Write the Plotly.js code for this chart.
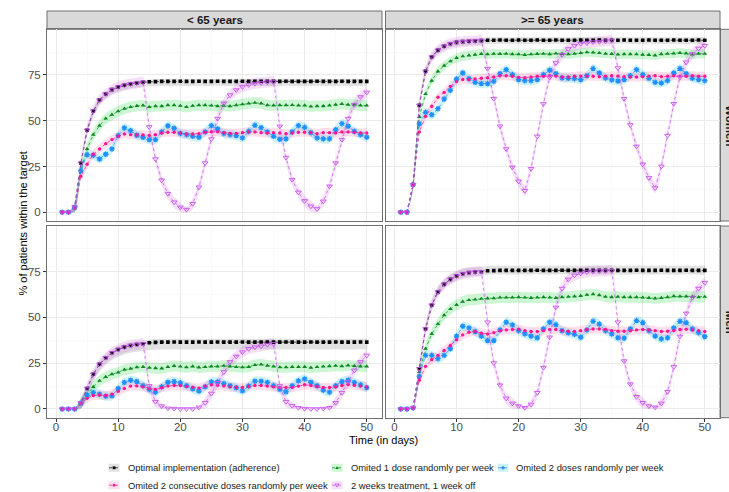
<!DOCTYPE html>
<html>
<head>
<meta charset="utf-8">
<script src="https://cdn.plot.ly/plotly-3.0.1.min.js"></script>
<style>
  html, body { margin: 0; padding: 0; background: #fff; }
  #chart { width: 729px; height: 492px; }
</style>
</head>
<body>
<div id="chart"></div>
<script>
// Time axis (days of follow-up)
const days = [1, 2, 3, 4, 5, 6, 7, 8, 9, 10,
  11, 12, 13, 14, 15, 16, 17, 18, 19, 20,
  21, 22, 23, 24, 25, 26, 27, 28, 29, 30,
  31, 32, 33, 34, 35, 36, 37, 38, 39, 40,
  41, 42, 43, 44, 45, 46, 47, 48, 49, 50];

const seriesNames = [
  'Optimal implementation (adherence)',
  'Omited 1 dose randomly per week',
  'Omited 2 doses randomly per week',
  'Omited 2 consecutive doses randomly per week',
  '2 weeks treatment, 1 week off'
];
const ageGroups = ['< 65 years', '>= 65 years'];
const sexGroups = ['Women', 'Men'];
const yTicks = [0, 25, 50, 75];
const xTicks = [0, 10, 20, 30, 40, 50];

// ---- Women, < 65 years ----
const womenYoungOptimal = [0, 0, 2.9, 26.8, 44.8, 55.3, 61.3, 64.6, 67.0, 68.4,
  69.4, 70.1, 70.6, 71.0, 71.3, 71.4, 71.5, 71.5, 71.5, 71.6,
  71.5, 71.5, 71.6, 71.5, 71.5, 71.6, 71.5, 71.5, 71.5, 71.6,
  71.5, 71.5, 71.6, 71.5, 71.5, 71.5, 71.6, 71.5, 71.5, 71.5,
  71.5, 71.6, 71.5, 71.5, 71.5, 71.6, 71.5, 71.5, 71.5, 71.5];
const womenYoungOne = [0, 0, 2.6, 22.8, 34.6, 42.4, 47.3, 51.2, 53.3, 55.2,
  56.6, 57.5, 58.1, 58.4, 57.5, 58.0, 58.0, 58.5, 58.5, 58.2,
  57.5, 58.2, 58.5, 58.5, 58.3, 58.0, 58.2, 58.0, 58.5, 59.0,
  59.5, 59.8, 59.5, 58.5, 58.4, 58.5, 58.5, 58.6, 58.4, 58.4,
  57.8, 58.0, 58.0, 58.4, 58.8, 59.2, 58.8, 58.8, 58.4, 58.3];
const womenYoungTwo = [0, 0, 2.5, 22.8, 31.5, 31.1, 29.1, 31.7, 34.6, 41.9,
  46.1, 44.6, 42.1, 41.0, 39.7, 39.7, 43.9, 47.2, 45.9, 43.1,
  42.4, 41.5, 41.0, 43.9, 47.3, 45.5, 43.1, 42.4, 41.9, 40.6,
  44.2, 47.5, 46.2, 43.9, 41.5, 39.9, 40.1, 43.9, 47.3, 46.4,
  43.5, 40.6, 40.1, 40.1, 45.1, 48.4, 47.0, 44.2, 42.4, 41.0];
const womenYoungConsec = [0, 0, 2.2, 19.7, 26.2, 31.7, 34.6, 37.5, 39.7, 41.5,
  42.8, 42.4, 42.2, 42.2, 42.0, 42.4, 43.3, 43.7, 43.7, 43.3,
  42.8, 42.8, 42.9, 43.7, 44.0, 44.0, 43.5, 43.1, 43.1, 43.5,
  43.9, 43.9, 43.5, 43.3, 43.5, 43.3, 42.9, 43.3, 43.7, 43.7,
  43.5, 42.9, 43.5, 43.5, 43.3, 43.9, 43.9, 43.7, 43.3, 43.3];
const womenYoungCycle = [0, 0, 2.9, 26.8, 44.8, 55.3, 61.3, 64.6, 67.0, 68.4,
  69.4, 70.1, 70.6, 71.0, 46.6, 29.1, 17.5, 10.2, 5.5, 2.7,
  1.5, 4.7, 13.7, 26.9, 40.0, 51.2, 59.5, 64.0, 66.8, 68.5,
  69.6, 70.3, 70.7, 71.1, 71.4, 47.0, 29.9, 17.8, 10.9, 6.2,
  3.3, 1.8, 6.0, 14.2, 26.9, 39.7, 51.2, 58.8, 63.0, 65.5];

// ---- Women, >= 65 years ----
const womenOldOptimal = [0, 0, 15.1, 58.4, 77.0, 84.8, 88.5, 90.7, 92.1, 92.8,
  93.2, 93.4, 93.6, 93.8, 94.0, 94.0, 94.1, 94.0, 94.0, 94.1,
  94.0, 94.0, 94.1, 94.0, 94.0, 94.1, 94.0, 94.0, 94.0, 94.1,
  94.0, 94.0, 94.1, 94.0, 94.0, 94.0, 94.1, 94.0, 94.0, 94.0,
  94.1, 94.0, 94.0, 94.0, 94.1, 94.0, 94.0, 94.0, 94.1, 94.0];
const womenOldOne = [0, 0, 15.0, 52.1, 64.6, 71.9, 77.0, 80.1, 82.5, 84.3,
  85.2, 85.7, 86.1, 86.5, 86.3, 86.6, 86.5, 86.6, 86.4, 86.3,
  86.0, 86.3, 86.5, 86.6, 86.4, 86.7, 86.5, 86.3, 86.6, 87.0,
  87.4, 87.3, 87.0, 86.6, 86.5, 86.2, 86.4, 86.4, 86.3, 86.1,
  86.0, 85.7, 86.4, 86.6, 86.8, 87.1, 86.8, 86.2, 86.6, 86.6];
const womenOldTwo = [0, 0, 15.0, 48.2, 54.6, 53.3, 56.6, 61.9, 66.6, 72.8,
  76.1, 73.0, 71.0, 70.3, 70.3, 71.5, 75.7, 77.9, 75.2, 72.5,
  71.9, 71.9, 72.5, 75.2, 77.6, 75.7, 73.4, 73.2, 73.0, 72.5,
  74.6, 78.5, 76.1, 73.4, 72.3, 71.7, 72.5, 74.6, 77.9, 75.2,
  73.2, 71.0, 70.6, 71.9, 76.1, 78.5, 75.7, 73.2, 72.5, 71.9];
const womenOldConsec = [0, 0, 15.0, 43.9, 52.4, 57.9, 62.8, 65.5, 68.8, 71.4,
  72.5, 72.5, 72.8, 73.2, 73.5, 73.9, 74.6, 74.6, 74.3, 73.7,
  73.5, 73.9, 74.3, 74.3, 74.6, 74.4, 73.9, 73.9, 74.3, 74.4,
  74.4, 74.3, 74.1, 74.3, 74.6, 74.4, 74.1, 73.9, 73.9, 74.1,
  74.4, 74.6, 74.1, 74.3, 74.6, 74.4, 74.3, 74.6, 74.3, 74.3];
const womenOldCycle = [0, 0, 15.1, 58.4, 77.0, 84.8, 88.5, 90.7, 92.1, 92.8,
  93.2, 93.4, 93.6, 93.8, 78.5, 62.1, 47.0, 34.6, 24.6, 16.9,
  11.8, 23.8, 41.5, 59.2, 73.7, 81.6, 86.1, 89.2, 91.0, 92.1,
  92.5, 93.0, 93.2, 93.5, 93.8, 78.8, 62.0, 47.7, 36.0, 26.2,
  18.8, 13.3, 25.1, 41.9, 59.3, 73.7, 82.0, 86.5, 89.5, 91.0];

// ---- Men, < 65 years ----
const menYoungOptimal = [0, 0, 0, 3.3, 11.2, 19.0, 24.4, 28.0, 30.7, 32.5,
  33.8, 34.7, 35.2, 35.6, 36.2, 36.4, 36.5, 36.5, 36.6, 36.5,
  36.5, 36.5, 36.6, 36.5, 36.5, 36.6, 36.5, 36.5, 36.5, 36.6,
  36.5, 36.5, 36.6, 36.5, 36.5, 36.5, 36.6, 36.5, 36.5, 36.5,
  36.6, 36.5, 36.5, 36.5, 36.6, 36.5, 36.5, 36.5, 36.6, 36.5];
const menYoungOne = [0, 0, 0, 3.0, 8.0, 12.1, 15.4, 17.5, 19.0, 20.0,
  21.5, 22.0, 22.8, 23.0, 22.5, 22.3, 22.2, 23.0, 23.5, 23.2,
  22.8, 23.3, 22.7, 22.9, 23.3, 23.3, 23.6, 23.3, 22.9, 22.8,
  23.0, 24.0, 24.3, 23.7, 23.3, 22.8, 22.8, 23.0, 23.0, 23.0,
  22.6, 22.9, 23.2, 23.4, 23.6, 23.4, 23.8, 23.5, 23.3, 23.3];
const menYoungTwo = [0, 0, 0, 3.1, 7.6, 8.9, 8.1, 7.0, 7.2, 11.2,
  14.5, 15.7, 15.0, 12.8, 10.7, 9.2, 12.1, 14.6, 15.0, 14.3,
  12.7, 11.0, 9.8, 12.1, 14.8, 14.8, 13.9, 12.7, 11.6, 9.9,
  12.5, 15.2, 15.2, 14.5, 12.8, 10.8, 9.4, 12.7, 15.4, 16.4,
  14.6, 12.7, 10.3, 9.2, 12.7, 15.0, 15.7, 14.5, 13.2, 11.7];
const menYoungConsec = [0, 0, 0, 3.0, 5.8, 7.4, 7.6, 7.4, 8.1, 9.6,
  11.2, 12.5, 12.6, 12.1, 11.2, 10.7, 11.6, 12.5, 12.8, 12.8,
  12.3, 11.9, 11.4, 12.5, 13.2, 13.0, 12.6, 12.1, 11.7, 11.7,
  12.3, 12.8, 12.8, 12.5, 12.1, 11.6, 11.7, 11.7, 12.5, 13.2,
  12.8, 12.3, 11.7, 11.7, 12.1, 12.8, 13.4, 13.0, 12.5, 12.1];
const menYoungCycle = [0, 0, 0, 3.3, 11.2, 19.0, 24.4, 28.0, 30.7, 32.5,
  33.8, 34.7, 35.2, 35.6, 12.6, 4.0, 1.6, 0.4, 0.2, 0.0,
  0.0, 0.0, 0.9, 3.4, 8.5, 14.3, 20.2, 25.7, 28.7, 31.1,
  32.9, 33.8, 34.3, 35.2, 35.6, 12.6, 4.0, 1.8, 0.7, 0.2,
  0.0, 0.0, 0.2, 0.7, 3.4, 8.9, 14.8, 21.1, 25.7, 29.3];

// ---- Men, >= 65 years ----
const menOldOptimal = [0, 0, 0.7, 22.0, 43.7, 56.7, 64.0, 68.1, 70.8, 72.7,
  73.9, 74.5, 74.8, 75.0, 75.5, 75.6, 75.7, 75.7, 75.7, 75.7,
  75.7, 75.7, 75.8, 75.7, 75.7, 75.7, 75.8, 75.7, 75.7, 75.7,
  75.8, 75.7, 75.7, 75.7, 75.8, 75.7, 75.7, 75.7, 75.8, 75.7,
  75.7, 75.7, 75.8, 75.7, 75.7, 75.7, 75.8, 75.7, 75.7, 75.7];
const menOldOne = [0, 0, 0.6, 20.2, 32.9, 41.0, 46.4, 51.3, 54.6, 56.9,
  58.6, 59.5, 59.8, 60.2, 60.4, 60.5, 60.9, 60.9, 60.9, 61.1,
  60.9, 60.7, 60.9, 61.1, 60.9, 60.7, 61.1, 61.3, 61.5, 61.8,
  62.4, 62.7, 62.2, 61.3, 61.1, 61.3, 61.1, 61.1, 61.1, 60.9,
  60.7, 60.4, 60.7, 61.1, 61.6, 61.5, 61.5, 61.3, 61.1, 61.3];
const menOldTwo = [0, 0, 0.6, 17.9, 29.3, 29.3, 27.5, 29.3, 32.9, 39.8,
  45.2, 44.3, 42.3, 39.8, 37.4, 37.4, 43.2, 47.4, 45.9, 42.8,
  41.0, 39.8, 38.9, 43.7, 47.4, 46.1, 42.8, 41.6, 40.8, 39.2,
  43.2, 47.9, 46.4, 42.8, 41.0, 38.9, 38.7, 43.7, 48.3, 47.2,
  42.8, 39.8, 38.3, 38.9, 44.3, 47.9, 47.2, 43.7, 41.7, 39.6];
const menOldConsec = [0, 0, 0.6, 15.7, 23.3, 26.9, 29.3, 32.0, 34.7, 37.8,
  40.5, 41.9, 42.3, 41.4, 41.0, 41.7, 42.8, 43.2, 43.4, 43.6,
  42.8, 42.3, 42.3, 42.8, 43.4, 43.4, 42.8, 42.5, 42.3, 42.8,
  43.4, 43.7, 43.7, 43.4, 42.8, 42.5, 42.5, 42.8, 43.2, 43.4,
  43.2, 42.8, 42.3, 42.5, 42.8, 43.4, 43.6, 43.2, 42.8, 42.3];
const menOldCycle = [0, 0, 0.7, 22.0, 43.7, 56.7, 64.0, 68.1, 70.8, 72.7,
  73.9, 74.5, 74.8, 75.0, 47.4, 25.1, 13.0, 5.8, 3.1, 1.6,
  0.7, 2.5, 8.9, 22.6, 39.2, 55.5, 65.8, 70.8, 73.0, 74.1,
  74.8, 75.2, 75.4, 75.4, 75.5, 47.4, 26.2, 13.6, 6.7, 3.4,
  1.6, 0.9, 3.1, 9.4, 23.0, 39.6, 52.2, 60.9, 65.8, 69.0];

// Confidence band half-widths (below, above) per scenario
const womenYoungBand = [[2.5, 1.3], [3, 3], [2.5, 2.5], [2.5, 2.5], [3, 3]];
const womenOldBand   = [[2.1, 1.6], [2.5, 2.5], [2.5, 2.5], [2.5, 2.5], [3, 3]];
const menYoungBand   = [[4, 1.8], [3, 3], [2.5, 2.5], [2.5, 2.5], [3, 3]];
const menOldBand     = [[2.2, 2.6], [3, 3], [2.5, 2.5], [2.5, 2.5], [3, 3]];

// ---------------------------------------------------------------
// Styling
const W = 729, H = 492;
const px = p => p / W;          // pixel -> paper x
const py = p => 1 - p / H;      // pixel -> paper y
const FONT = 'Liberation Sans, Arial, Helvetica, sans-serif';

const styles = [
  { color: '#000000', band: 'rgba(150,150,150,0.28)', symbol: 'square', size: 3.6, lw: 0 },
  { color: '#0A8A1E', band: 'rgba(0,210,40,0.20)', symbol: 'triangle-up', size: 4.2, lw: 0 },
  { color: '#1E90FF', band: 'rgba(0,190,240,0.20)', symbol: 'asterisk-open', size: 4.6, lw: 1.3 },
  { color: '#FF1493', band: 'rgba(255,80,150,0.18)', symbol: 'circle', size: 3.4, lw: 0 },
  { color: '#C850F0', band: 'rgba(200,80,220,0.18)', symbol: 'triangle-down-open', size: 5, lw: 0.9 }
];

const panels = [
  { xa: 'x',  ya: 'y',  data: [womenYoungOptimal, womenYoungOne, womenYoungTwo, womenYoungConsec, womenYoungCycle], band: womenYoungBand },
  { xa: 'x2', ya: 'y2', data: [womenOldOptimal, womenOldOne, womenOldTwo, womenOldConsec, womenOldCycle], band: womenOldBand },
  { xa: 'x3', ya: 'y3', data: [menYoungOptimal, menYoungOne, menYoungTwo, menYoungConsec, menYoungCycle], band: menYoungBand },
  { xa: 'x4', ya: 'y4', data: [menOldOptimal, menOldOne, menOldTwo, menOldConsec, menOldCycle], band: menOldBand }
];

const traces = [];
panels.forEach(p => {
  // bands first
  p.data.forEach((vals, i) => {
    const lo = p.band[i][0], hi = p.band[i][1];
    const upper = vals.map(v => v + Math.min(hi, v));
    const lower = vals.map(v => v - Math.min(lo, v));
    traces.push({
      type: 'scatter', mode: 'lines', xaxis: p.xa, yaxis: p.ya,
      x: days.concat(days.slice().reverse()),
      y: upper.concat(lower.slice().reverse()),
      fill: 'toself', fillcolor: styles[i].band,
      line: { width: 0, shape: 'spline', smoothing: 0.6 }, hoverinfo: 'skip', showlegend: false
    });
  });
  // lines and points
  p.data.forEach((vals, i) => {
    const s = styles[i];
    traces.push({
      type: 'scatter', mode: 'lines+markers', xaxis: p.xa, yaxis: p.ya,
      x: days, y: vals, name: seriesNames[i], showlegend: false,
      line: { color: s.color, width: 0.7, dash: 'dot' },
      marker: { symbol: s.symbol, size: s.size, color: s.color,
                line: { color: s.color, width: s.lw } }
    });
  });
});

// Panel geometry (pixels)
const colX = [[47, 382], [385.5, 720]];
const rowY = [[29.3, 221], [226, 417.7]];

function xAxis(col, row, labels) {
  return {
    domain: [px(colX[col][0]), px(colX[col][1])],
    anchor: 'y' + (row * 2 + col + 1 === 1 ? '' : (row * 2 + col + 1)),
    range: [-1.45, 52.45], tickvals: xTicks, ticktext: xTicks.map(String),
    ticks: labels ? 'outside' : '', ticklen: 3, tickwidth: 1, tickcolor: '#333333',
    ticklabelstandoff: -5,
    showticklabels: labels, tickfont: { family: FONT, size: 11.5, color: '#4D4D4D' },
    showgrid: true, gridcolor: '#EBEBEB', gridwidth: 1,
    minor: { tickvals: [5, 15, 25, 35, 45], showgrid: true, gridcolor: '#F5F5F5', gridwidth: 0.6, ticks: '' },
    zeroline: false, showline: true, linecolor: '#707070', linewidth: 1, mirror: true,
    fixedrange: true, automargin: false
  };
}
function yAxis(col, row, labels) {
  return {
    domain: [py(rowY[row][1]), py(rowY[row][0])],
    anchor: 'x' + (row * 2 + col + 1 === 1 ? '' : (row * 2 + col + 1)),
    range: [-4.76, 99.96], tickvals: yTicks, ticktext: yTicks.map(String),
    ticks: labels ? 'outside' : '', ticklen: 3, tickwidth: 1, tickcolor: '#333333',
    showticklabels: labels, tickfont: { family: FONT, size: 11.5, color: '#4D4D4D' },
    showgrid: true, gridcolor: '#EBEBEB', gridwidth: 1,
    minor: { tickvals: [12.5, 37.5, 62.5, 87.5], showgrid: true, gridcolor: '#F5F5F5', gridwidth: 0.6, ticks: '' },
    zeroline: false, showline: true, linecolor: '#707070', linewidth: 1, mirror: true,
    fixedrange: true, automargin: false
  };
}

const shapes = [];
const annotations = [];

// facet strips on top
ageGroups.forEach((label, c) => {
  shapes.push({ type: 'rect', xref: 'paper', yref: 'paper',
    x0: px(colX[c][0]), x1: px(colX[c][1]), y0: py(29.3), y1: py(11),
    fillcolor: '#D9D9D9', line: { color: '#707070', width: 1 }, layer: 'below' });
  annotations.push({ xref: 'paper', yref: 'paper', x: px((colX[c][0] + colX[c][1]) / 2), y: py(20),
    text: '<b>' + label.replace('<', '&lt;').replace('>', '&gt;') + '</b>', showarrow: false,
    xanchor: 'center', yanchor: 'middle', font: { family: FONT, size: 11.5, color: '#1A1A1A' } });
});
// facet strips on the right
sexGroups.forEach((label, r) => {
  shapes.push({ type: 'rect', xref: 'paper', yref: 'paper',
    x0: px(720), x1: px(740), y0: py(rowY[r][1]), y1: py(rowY[r][0]),
    fillcolor: '#D9D9D9', line: { color: '#707070', width: 1 }, layer: 'below' });
  annotations.push({ xref: 'paper', yref: 'paper', x: px(730), y: py((rowY[r][0] + rowY[r][1]) / 2),
    text: '<b>' + label + '</b>', showarrow: false, textangle: 90,
    xanchor: 'center', yanchor: 'middle', font: { family: FONT, size: 11.5, color: '#1A1A1A' } });
});

// axis titles
annotations.push({ xref: 'paper', yref: 'paper', x: px(383.5), y: py(440), text: 'Time (in days)',
  showarrow: false, xanchor: 'center', yanchor: 'middle', font: { family: FONT, size: 11, color: '#000' } });
annotations.push({ xref: 'paper', yref: 'paper', x: px(22), y: py(223.5), text: '% of patients within the target',
  showarrow: false, textangle: -90, xanchor: 'center', yanchor: 'middle', font: { family: FONT, size: 11, color: '#000' } });

// legend (two rows, three columns)
const legendSlots = [
  { key: 108.5, text: 126, row: 467.8 },
  { key: 331.5, text: 348.5, row: 467.8 },
  { key: 497.5, text: 514, row: 467.8 },
  { key: 108.5, text: 126, row: 485.2 },
  { key: 331.5, text: 348.5, row: 485.2 }
];
const legendOrder = [0, 1, 2, 3, 4];
function tri(cx, cy, r, up) {
  const s = up ? -1 : 1;
  return 'M' + px(cx - r) + ',' + py(cy - s * r * 0.6) +
         ' L' + px(cx + r) + ',' + py(cy - s * r * 0.6) +
         ' L' + px(cx) + ',' + py(cy + s * r * 0.9) + ' Z';
}
legendOrder.forEach((si, k) => {
  const slot = legendSlots[k], s = styles[si];
  const kx0 = slot.key, kx1 = slot.key + 11, cy = slot.row, cx = (kx0 + kx1) / 2;
  shapes.push({ type: 'rect', xref: 'paper', yref: 'paper', x0: px(kx0), x1: px(kx1),
    y0: py(cy + 4), y1: py(cy - 4), fillcolor: s.band, line: { width: 0 } });
  shapes.push({ type: 'line', xref: 'paper', yref: 'paper', x0: px(kx0 + 0.5), x1: px(kx1 - 0.5),
    y0: py(cy), y1: py(cy), line: { color: s.color, width: 0.7, dash: 'dot' } });
  if (si === 0) {
    shapes.push({ type: 'rect', xref: 'paper', yref: 'paper', x0: px(cx - 1.4), x1: px(cx + 1.4),
      y0: py(cy + 1.4), y1: py(cy - 1.4), fillcolor: s.color, line: { width: 0 } });
  } else if (si === 1) {
    shapes.push({ type: 'path', xref: 'paper', yref: 'paper', path: tri(cx, cy, 1.8, true),
      fillcolor: s.color, line: { width: 0 } });
  } else if (si === 2) {
    shapes.push({ type: 'path', xref: 'paper', yref: 'paper',
      path: 'M' + px(cx - 1.8) + ',' + py(cy) + ' L' + px(cx + 1.8) + ',' + py(cy) +
            ' M' + px(cx) + ',' + py(cy - 1.8) + ' L' + px(cx) + ',' + py(cy + 1.8),
      line: { color: s.color, width: 1.4 } });
  } else if (si === 3) {
    shapes.push({ type: 'circle', xref: 'paper', yref: 'paper', x0: px(cx - 1.4), x1: px(cx + 1.4),
      y0: py(cy + 1.4), y1: py(cy - 1.4), fillcolor: s.color, line: { width: 0 } });
  } else {
    shapes.push({ type: 'path', xref: 'paper', yref: 'paper', path: tri(cx, cy, 2, false),
      fillcolor: 'rgba(0,0,0,0)', line: { color: s.color, width: 0.9 } });
  }
  annotations.push({ xref: 'paper', yref: 'paper', x: px(slot.text), y: py(slot.row),
    text: seriesNames[si], showarrow: false, xanchor: 'left', yanchor: 'middle',
    font: { family: FONT, size: 9.4, color: '#1A1A1A' } });
});

const layout = {
  width: W, height: H,
  margin: { l: 0, r: 0, t: 0, b: 0, pad: 0 },
  paper_bgcolor: '#FFFFFF', plot_bgcolor: '#FFFFFF',
  font: { family: FONT },
  showlegend: false,
  xaxis: xAxis(0, 0, false), yaxis: yAxis(0, 0, true),
  xaxis2: xAxis(1, 0, false), yaxis2: yAxis(1, 0, false),
  xaxis3: xAxis(0, 1, true), yaxis3: yAxis(0, 1, true),
  xaxis4: xAxis(1, 1, true), yaxis4: yAxis(1, 1, false),
  shapes: shapes, annotations: annotations
};

Plotly.newPlot('chart', traces, layout, { staticPlot: true, displayModeBar: false });
</script>
</body>
</html>
